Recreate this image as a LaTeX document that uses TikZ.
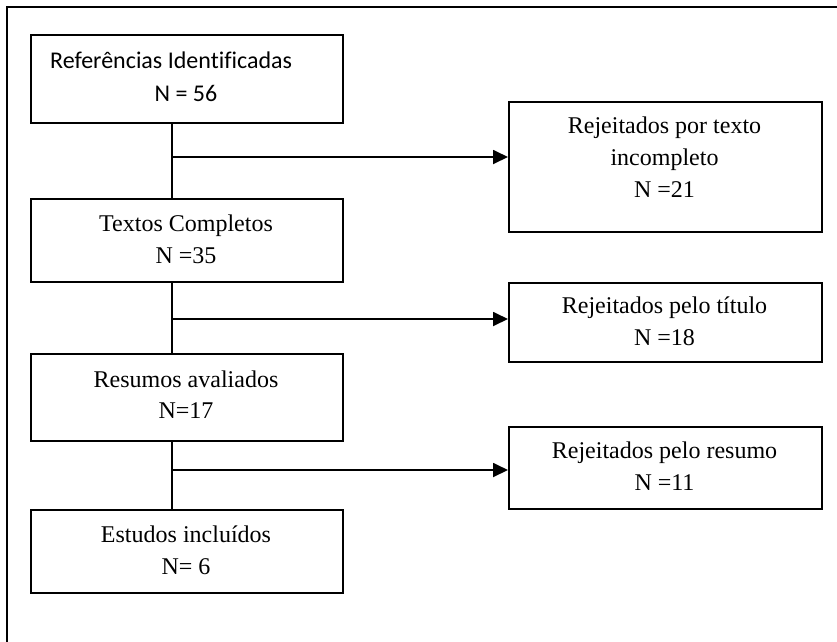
\documentclass[tikz,border=0pt]{standalone}
\usepackage{fontspec}
\setmainfont{Liberation Serif}
\newfontfamily\calibri[Ligatures=NoCommon]{Carlito}
\usetikzlibrary{arrows.meta}
\begin{document}
\begin{tikzpicture}[x=1pt,y=-1pt,
  boxnode/.style={draw,line width=1.8pt,rectangle,anchor=north west,inner sep=0pt},
  txt/.style={anchor=base,inner sep=0pt,font=\fontsize{24}{28}\selectfont},
  link/.style={line width=1.8pt},
  arr/.style={line width=1.8pt,-{Triangle[length=15pt,width=14pt]}}]
\useasboundingbox (0,0) rectangle (837,641);
\draw[line width=1.9pt] (7,645) -- (7,7) -- (845,7);
% left boxes
\node[boxnode,minimum width=312pt,minimum height=88pt] (b1) at (30,34) {};
\node[boxnode,minimum width=312pt,minimum height=83pt] (b2) at (30,198) {};
\node[boxnode,minimum width=312pt,minimum height=87pt] (b3) at (30,353) {};
\node[boxnode,minimum width=312pt,minimum height=83pt] (b4) at (30,509) {};
% right boxes
\node[boxnode,minimum width=313pt,minimum height=130pt] (r1) at (508,101) {};
\node[boxnode,minimum width=313pt,minimum height=79pt] (r2) at (508,282) {};
\node[boxnode,minimum width=313pt,minimum height=82pt] (r3) at (508,426) {};
% texts
\node[txt,anchor=base west,font=\fontsize{24}{28}\calibri] (t1a) at (50,68) {Referências Identificadas};
\node[txt,font=\fontsize{24}{28}\calibri] (t1b) at (186,101) {N = 56};
\node[txt] (t2a) at (186,231) {Textos Completos};
\node[txt] (t2b) at (186,263) {N =35};
\node[txt] (t3a) at (186,387) {Resumos avaliados};
\node[txt] (t3b) at (186,418) {N=17};
\node[txt] (t4a) at (186,542) {Estudos incluídos};
\node[txt] (t4b) at (186,574) {N= 6};
\node[txt] (u1a) at (664.5,133) {Rejeitados por texto};
\node[txt] (u1b) at (664.5,165) {incompleto};
\node[txt] (u1c) at (664.5,197) {N =21};
\node[txt] (u2a) at (664.5,313) {Rejeitados pelo título};
\node[txt] (u2b) at (664.5,345) {N =18};
\node[txt] (u3a) at (664.5,458) {Rejeitados pelo resumo};
\node[txt] (u3b) at (664.5,490) {N =11};
% junctions
\coordinate (j1) at (172,157);
\coordinate (j2) at (172,319);
\coordinate (j3) at (172,470);
\draw[link] (b1.south -| j1) -- (b2.north -| j1);
\draw[link] (b2.south -| j2) -- (b3.north -| j2);
\draw[link] (b3.south -| j3) -- (b4.north -| j3);
\draw[arr] (j1) -- (r1.west |- j1);
\draw[arr] (j2) -- (r2.west |- j2);
\draw[arr] (j3) -- (r3.west |- j3);
\end{tikzpicture}
\end{document}
